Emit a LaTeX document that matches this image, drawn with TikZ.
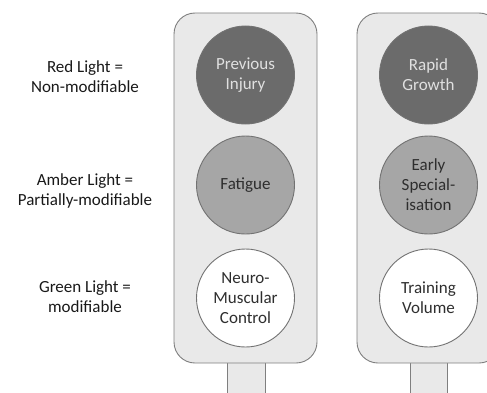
\documentclass[tikz,border=0pt]{standalone}
\usepackage{fontspec}
\setmainfont{Carlito}

\definecolor{housingfill}{HTML}{E9E9E9}
\definecolor{housingline}{HTML}{7F7F7F}
\definecolor{redlamp}{HTML}{6B6B6B}
\definecolor{amberlamp}{HTML}{A6A6A6}
\definecolor{lamptext}{HTML}{2E2E2E}

\tikzset{
  housing/.style={draw=housingline, fill=housingfill, line width=0.9bp, rounded corners=21bp},
  lamp/.style={circle, draw=housingline!90!black, line width=0.9bp, minimum size=98bp, inner sep=0pt,
    align=center, font=\fontsize{17bp}{20bp}\selectfont, text=lamptext},
  key/.style={align=center, font=\fontsize{17bp}{20bp}\selectfont, text=black!90}
}

\begin{document}
\begin{tikzpicture}[x=1bp,y=1bp]
\useasboundingbox (0,0) rectangle (487,392);
\clip (0,0) rectangle (487,392);
% \draw (0,0) grid (487,392);
% poles
\draw[housing, rounded corners=0pt] (227,-5) rectangle (265,30);
\draw[housing, rounded corners=0pt] (410,-5) rectangle (447,30);
% housings
\draw[housing] (174,29) rectangle (317,379);
\draw[housing] (357,29) rectangle (500,379);
% left light
\node[lamp, fill=redlamp, text=black!12] (injury) at (245.5,317) {Previous\\Injury};
\node[lamp, fill=amberlamp] (fatigue) at (245.5,207) {Fatigue};
\node[lamp, fill=white] (control) at (245.5,94) {Neuro-\\Muscular\\Control};
% right light
\node[lamp, fill=redlamp, text=black!12] (growth) at (428.5,317) {Rapid\\Growth};
\node[lamp, fill=amberlamp] (special) at (428.5,207) {Early\\Special-\\isation};
\node[lamp, fill=white] (volume) at (428.5,94) {Training\\Volume};
% key
\node[key] (redkey) at (85,315) {Red Light =\\Non-modifiable};
\node[key] (amberkey) at (85,201) {Amber Light =\\Partially-modifiable};
\node[key] (greenkey) at (85,95) {Green Light =\\modifiable};
\end{tikzpicture}
\end{document}
